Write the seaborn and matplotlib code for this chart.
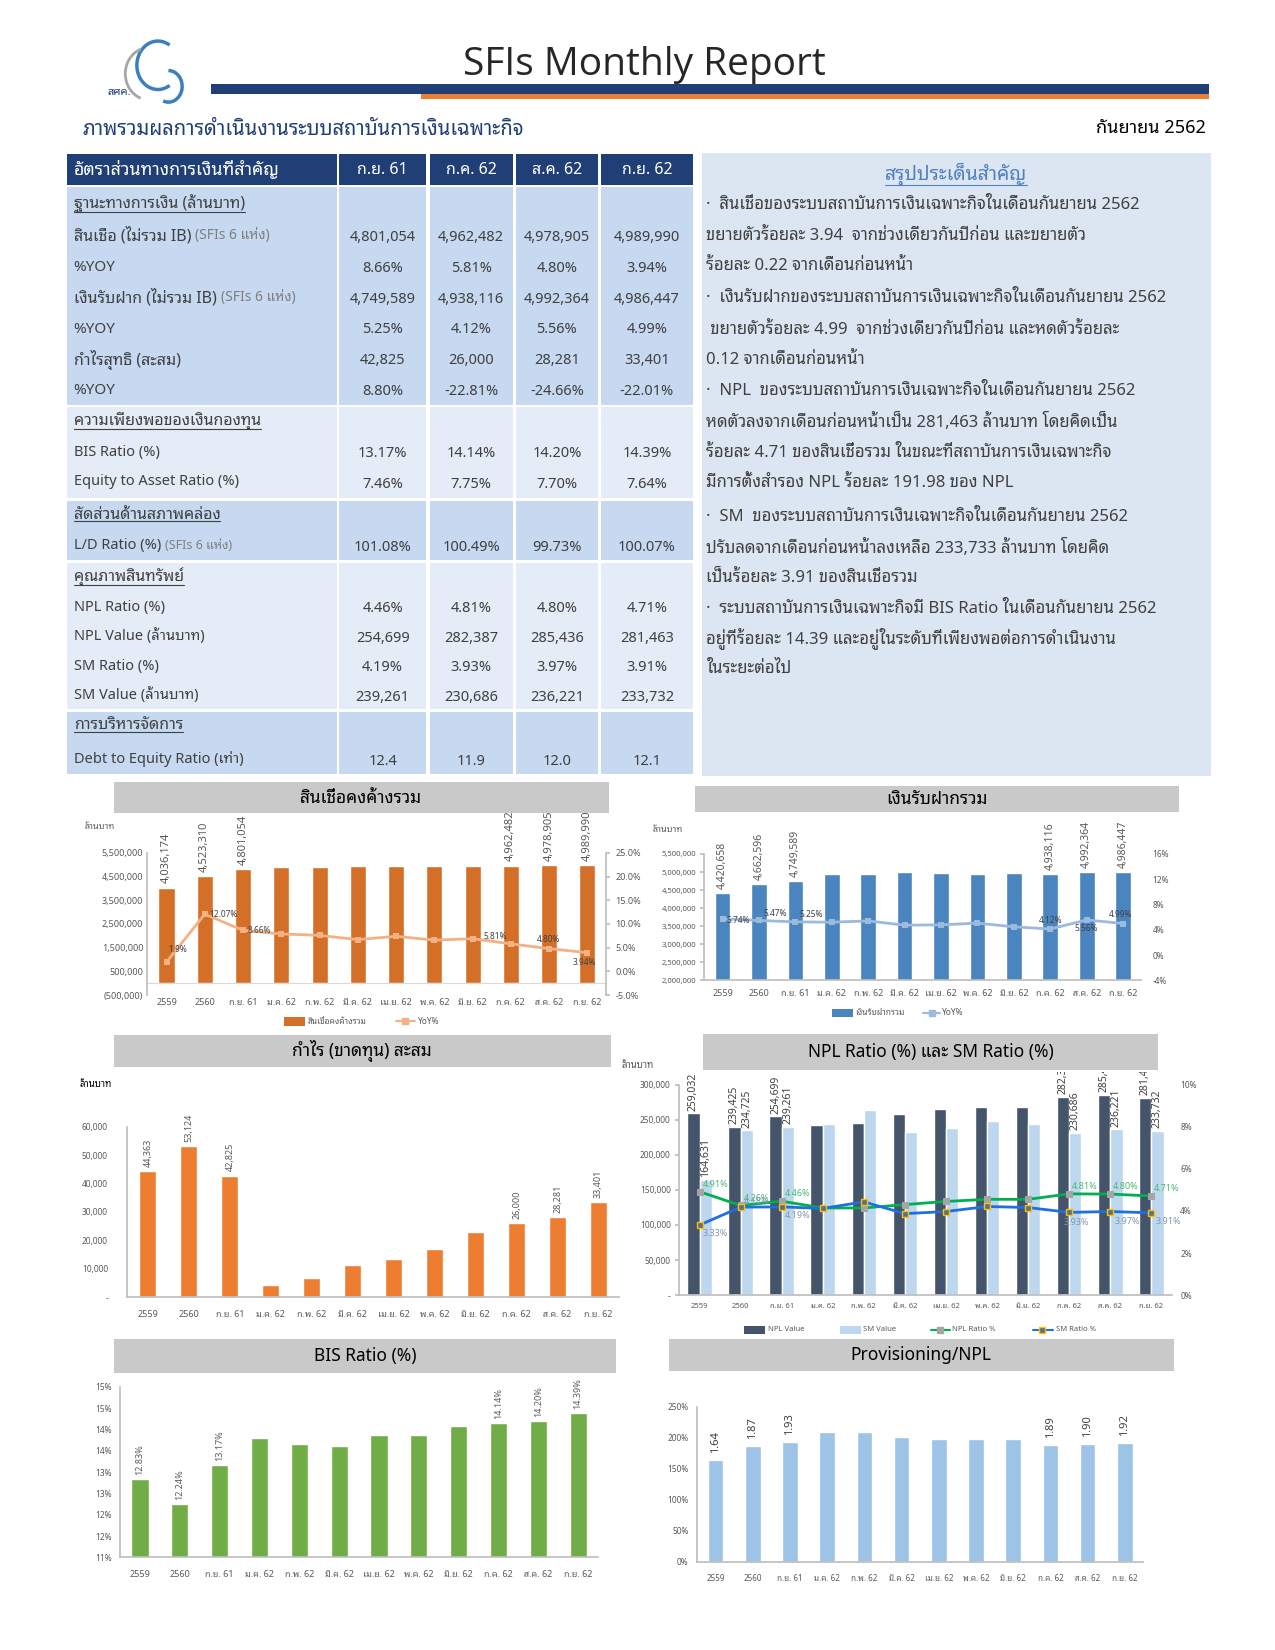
import numpy as np
import pandas as pd
import matplotlib
matplotlib.use('Agg')
import matplotlib.pyplot as plt
import matplotlib.ticker as mticker
import seaborn as sns
from matplotlib import font_manager
from matplotlib.ft2font import FT2Font
from matplotlib.patches import Rectangle, Arc
from matplotlib.lines import Line2D
from matplotlib.transforms import Bbox, TransformedBbox

# -----------------------------------------------------------
# data
# -----------------------------------------------------------
cats = ['2559', '2560', 'ก.ย. 61', 'ม.ค. 62', 'ก.พ. 62', 'มี.ค. 62', 'เม.ย. 62',
        'พ.ค. 62', 'มิ.ย. 62', 'ก.ค. 62', 'ส.ค. 62', 'ก.ย. 62']
label_idx = [0, 1, 2, 9, 10, 11]

loans = [4036174, 4523310, 4801054, 4890000, 4890000, 4930000, 4965000,
         4930000, 4965000, 4962482, 4978905, 4989990]
loans_yoy = [1.97, 12.07, 8.66, 7.9, 7.6, 6.7, 7.4, 6.6, 6.9, 5.81, 4.80, 3.94]
loans_yoy_txt = ['1.9%', '12.07%', '8.66%', '5.81%', '4.80%', '3.94%']

deposits = [4420658, 4662596, 4749589, 4945000, 4945000, 4995000, 4975000,
            4945000, 4975000, 4938116, 4992364, 4986447]
deposits_yoy = [5.74, 5.47, 5.25, 5.2, 5.4, 4.73, 4.78, 5.05, 4.47, 4.12, 5.56, 4.99]

profit = [44363, 53124, 42825, 4200, 6700, 11500, 13500, 17000, 23000, 26000, 28281, 33401]

npl_value = [259032, 239425, 254699, 242000, 245000, 258000, 265000, 268000,
             268000, 282387, 285436, 281463]
sm_value = [164631, 234725, 239261, 243500, 263500, 232000, 238000, 248000,
            244500, 230686, 236221, 233732]
npl_ratio = [4.91, 4.26, 4.46, 4.14, 4.14, 4.30, 4.45, 4.55, 4.55, 4.81, 4.80, 4.71]
sm_ratio = [3.33, 4.18, 4.19, 4.12, 4.43, 3.87, 3.97, 4.21, 4.16, 3.93, 3.97, 3.91]

bis = [12.83, 12.24, 13.17, 13.81, 13.65, 13.60, 13.86, 13.86, 14.07, 14.14, 14.20, 14.39]
prov = [1.64, 1.87, 1.93, 2.09, 2.09, 2.01, 1.98, 1.98, 1.98, 1.89, 1.90, 1.92]

tbl_cols = ['ก.ย. 61', 'ก.ค. 62', 'ส.ค. 62', 'ก.ย. 62']
tbl_loans = ['4,801,054', '4,962,482', '4,978,905', '4,989,990']
tbl_loans_yoy = ['8.66%', '5.81%', '4.80%', '3.94%']
tbl_dep = ['4,749,589', '4,938,116', '4,992,364', '4,986,447']
tbl_dep_yoy = ['5.25%', '4.12%', '5.56%', '4.99%']
tbl_profit = ['42,825', '26,000', '28,281', '33,401']
tbl_profit_yoy = ['8.80%', '-22.81%', '-24.66%', '-22.01%']
tbl_bis = ['13.17%', '14.14%', '14.20%', '14.39%']
tbl_equity = ['7.46%', '7.75%', '7.70%', '7.64%']
tbl_ld = ['101.08%', '100.49%', '99.73%', '100.07%']
tbl_npl_ratio = ['4.46%', '4.81%', '4.80%', '4.71%']
tbl_npl_value = ['254,699', '282,387', '285,436', '281,463']
tbl_sm_ratio = ['4.19%', '3.93%', '3.97%', '3.91%']
tbl_sm_value = ['239,261', '230,686', '236,221', '233,732']
tbl_de = ['12.4', '11.9', '12.0', '12.1']

summary_lines = [
    '·  สินเชื่อของระบบสถาบันการเงินเฉพาะกิจในเดือนกันยายน 2562',
    'ขยายตัวร้อยละ 3.94  จากช่วงเดียวกันปีก่อน และขยายตัว',
    'ร้อยละ 0.22 จากเดือนก่อนหน้า',
    '·  เงินรับฝากของระบบสถาบันการเงินเฉพาะกิจในเดือนกันยายน 2562',
    ' ขยายตัวร้อยละ 4.99  จากช่วงเดียวกันปีก่อน และหดตัวร้อยละ',
    '0.12 จากเดือนก่อนหน้า',
    '·  NPL  ของระบบสถาบันการเงินเฉพาะกิจในเดือนกันยายน 2562',
    'หดตัวลงจากเดือนก่อนหน้าเป็น 281,463 ล้านบาท โดยคิดเป็น',
    'ร้อยละ 4.71 ของสินเชื่อรวม ในขณะที่สถาบันการเงินเฉพาะกิจ',
    'มีการตั้งสำรอง NPL ร้อยละ 191.98 ของ NPL',
    '·  SM  ของระบบสถาบันการเงินเฉพาะกิจในเดือนกันยายน 2562',
    'ปรับลดจากเดือนก่อนหน้าลงเหลือ 233,733 ล้านบาท โดยคิด',
    'เป็นร้อยละ 3.91 ของสินเชื่อรวม',
    '·  ระบบสถาบันการเงินเฉพาะกิจมี BIS Ratio ในเดือนกันยายน 2562',
    'อยู่ที่ร้อยละ 14.39 และอยู่ในระดับที่เพียงพอต่อการดำเนินงาน',
    'ในระยะต่อไป',
]
summary_y = [195, 224, 253, 283, 313, 342, 371, 401, 430, 459, 491, 520, 549, 578, 606, 635]

# -----------------------------------------------------------
# fonts (find a family with Thai glyphs)
# -----------------------------------------------------------
sns.set_theme(style='white')


def find_thai_font():
    found = []
    for f in font_manager.fontManager.ttflist:
        if f.name in found:
            continue
        try:
            cmap = FT2Font(f.fname).get_charmap()
        except Exception:
            continue
        if 0x0E01 in cmap:
            found.append(f.name)
    for pref in ['Noto Sans Thai Looped', 'Noto Sans Thai', 'Sarabun', 'Loma', 'Garuda', 'Tlwg Typo']:
        if pref in found:
            return pref
    return found[0] if found else None


thai = find_thai_font()
fams = ['Noto Sans'] + ([thai] if thai else []) + ['DejaVu Sans']
plt.rcParams['font.family'] = fams

W0, H0 = 1211, 1567
fig = plt.figure(figsize=(12.75, 16.5), dpi=100)
fig.patch.set_facecolor('white')
bg = fig.add_axes([0, 0, 1, 1])
bg.set_xlim(0, W0)
bg.set_ylim(H0, 0)
bg.axis('off')
renderer = fig.canvas.get_renderer()

DARK = '#404040'
GRAY = '#595959'


def box(x0, y0, x1, y1, color):
    bg.add_patch(Rectangle((x0, y0), x1 - x0, y1 - y0, facecolor=color, edgecolor='none'))


def add_ax(x0, y0, x1, y1):
    ax = fig.add_axes([x0 / W0, 1 - y1 / H0, (x1 - x0) / W0, (y1 - y0) / H0])
    ax.set_facecolor('none')
    return ax


def underline(t, color):
    bb = t.get_window_extent(renderer).transformed(bg.transData.inverted())
    yb = max(bb.y0, bb.y1) - 1.5
    bg.plot([bb.x0, bb.x1], [yb, yb], color=color, lw=0.8)


def label_pair(x, y, main, sub=None, size=11.5):
    t = bg.text(x, y, main, fontsize=size, color=DARK, va='center')
    if sub:
        bb = t.get_window_extent(renderer).transformed(bg.transData.inverted())
        bg.text(bb.x1 + 4, y, sub, fontsize=size - 1.5, color='#7F7F7F', va='center')
    return t


# -----------------------------------------------------------
# header
# -----------------------------------------------------------
bg.add_patch(Arc((150, 62), 40, 46, theta1=60, theta2=300, color='#3B7FC0', lw=2.5))
bg.add_patch(Arc((142, 70), 46, 50, theta1=110, theta2=250, color='#A6A6A6', lw=2))
bg.add_patch(Arc((160, 82), 26, 30, theta1=-90, theta2=110, color='#3B7FC0', lw=2.5))
bg.text(113, 88, 'สศค.', fontsize=8, color='#1F3F76', fontweight='bold', va='center', ha='center')
bg.text(612, 62, 'SFIs Monthly Report', fontsize=28, color='#262626', ha='center', va='center',
        family='Open Sans')
box(200, 80, 1148, 89, '#1F3F76')
box(400, 89, 1148, 94, '#ED7D31')
bg.text(78, 123, 'ภาพรวมผลการดำเนินงานระบบสถาบันการเงินเฉพาะกิจ', fontsize=14.5,
        color='#1F3F76', va='center')
bg.text(1145, 122, 'กันยายน 2562', fontsize=13, color='black', fontweight='bold',
        ha='right', va='center')

# -----------------------------------------------------------
# table
# -----------------------------------------------------------
cols_x = [(64, 320), (322, 405), (408, 487), (490, 568), (571, 658)]
col_c = [(a + b) / 2 for a, b in cols_x[1:]]
for a, b in cols_x:
    box(a, 146, b, 176, '#1F3F76')
bg.text(70, 161, 'อัตราส่วนทางการเงินที่สำคัญ', fontsize=12.8, color='white',
        fontweight='bold', va='center')
for c, name in zip(col_c, tbl_cols):
    bg.text(c, 161, name, fontsize=11.5, color='white', ha='center', va='center')

MED, LIGHT = '#C6D9F1', '#E4ECF7'
sections = [(178, 385, MED), (387, 473, LIGHT), (476, 532, MED), (535, 673, LIGHT), (676, 735, MED)]
for y0, y1, colr in sections:
    for a, b in cols_x:
        box(a, y0, b, y1, colr)


def sec_head(y, txt):
    t = bg.text(70, y, txt, fontsize=11.5, color=DARK, va='center')
    underline(t, DARK)


def values(y, vals, size=10.5):
    for c, v in zip(col_c, vals):
        bg.text(c, y, v, fontsize=size, color=DARK, ha='center', va='center')


sec_head(194, 'ฐานะทางการเงิน (ล้านบาท)')
label_pair(70, 224, 'สินเชื่อ (ไม่รวม IB)', '(SFIs 6 แห่ง)')
values(226, tbl_loans)
label_pair(70, 254, '%YOY', size=11)
values(255, tbl_loans_yoy)
label_pair(70, 283, 'เงินรับฝาก (ไม่รวม IB)', '(SFIs 6 แห่ง)')
values(284, tbl_dep)
label_pair(70, 313, '%YOY', size=11)
values(313, tbl_dep_yoy)
label_pair(70, 342, 'กำไรสุทธิ (สะสม)')
values(342, tbl_profit)
label_pair(70, 371, '%YOY', size=11)
values(372, tbl_profit_yoy)

sec_head(400, 'ความเพียงพอของเงินกองทุน')
label_pair(70, 430, 'BIS Ratio (%)', size=10.5)
values(431, tbl_bis)
label_pair(70, 457, 'Equity to Asset Ratio (%)', size=10.5)
values(460, tbl_equity)

sec_head(489, 'สัดส่วนด้านสภาพคล่อง')
label_pair(70, 518, 'L/D Ratio (%)', '(SFIs 6 แห่ง)', size=10.5)
values(520, tbl_ld)

sec_head(548, 'คุณภาพสินทรัพย์')
label_pair(70, 577, 'NPL Ratio (%)', size=10.5)
values(578, tbl_npl_ratio)
label_pair(70, 604, 'NPL Value (ล้านบาท)', size=10.5)
values(606, tbl_npl_value)
label_pair(70, 633, 'SM Ratio (%)', size=10.5)
values(634, tbl_sm_ratio)
label_pair(70, 660, 'SM Value (ล้านบาท)', size=10.5)
values(662, tbl_sm_value)

sec_head(689, 'การบริหารจัดการ')
label_pair(70, 721, 'Debt to Equity Ratio (เท่า)', size=10.5)
values(723, tbl_de)

# -----------------------------------------------------------
# summary panel
# -----------------------------------------------------------
box(667, 145, 1150, 737, '#DCE6F2')
t = bg.text(908, 166, 'สรุปประเด็นสำคัญ', fontsize=14, color='#4F81BD', fontweight='bold',
            ha='center', va='center')
underline(t, '#4F81BD')
for yy, line in zip(summary_y, summary_lines):
    bg.text(671, yy, line, fontsize=12, color=DARK, va='center')


# -----------------------------------------------------------
# chart helpers
# -----------------------------------------------------------
def title_bar(x0, y0, x1, y1, txt, bold=True):
    box(x0, y0, x1, y1, '#C9C9C9')
    bg.text((x0 + x1) / 2, (y0 + y1) / 2, txt, fontsize=12.5, color='black',
            fontweight='bold' if bold else 'normal', ha='center', va='center')


def style(ax, pad=3, left_ticks=0):
    for s in ['top', 'right']:
        ax.spines[s].set_visible(False)
    ax.spines['left'].set_color('#BFBFBF')
    ax.spines['bottom'].set_color('#BFBFBF')
    ax.tick_params(axis='x', labelsize=6.5, colors=GRAY, length=0, pad=pad)
    ax.tick_params(axis='y', labelsize=6.5, colors=GRAY, length=left_ticks, pad=3, color='#BFBFBF')
    ax.set_xlabel('')
    ax.set_ylabel('')
    ax.set_xlim(-0.5, 11.5)
    ax.grid(False)


def bar_labels(ax, vals, fmt, size=7, color=GRAY, scale=1.0, pad=3):
    for i in label_idx:
        ax.annotate(fmt(vals[i]), (i, vals[i] * scale), xytext=(0, pad), textcoords='offset points',
                    rotation=90, ha='center', va='bottom', fontsize=size, color=color)


def point_labels(ax, vals, offsets, texts=None, size=6, color=DARK):
    for k, (i, (dx, dy, ha, va)) in enumerate(zip(label_idx, offsets)):
        txt = texts[k] if texts else f'{vals[i]:.2f}%'
        ax.annotate(txt, (i, vals[i]), xytext=(dx, dy), textcoords='offset points',
                    ha=ha, va=va, fontsize=size, color=color)


x_idx = np.arange(len(cats))

# -----------------------------------------------------------
# chart 1: loans
# -----------------------------------------------------------
title_bar(108, 743, 578, 772, 'สินเชื่อคงค้างรวม')
bg.text(80, 785, 'ล้านบาท', fontsize=6.5, color=GRAY, va='center')
ax1 = add_ax(140, 810, 576, 945)
sns.barplot(x=cats, y=loans, color='#D46F27', saturation=1, width=0.42, ax=ax1)
ax1.set_ylim(-500000, 5500000)
ax1.set_yticks(np.arange(-500000, 5500001, 1000000))
ax1.yaxis.set_major_formatter(mticker.FuncFormatter(
    lambda v, p: f'({abs(v):,.0f})' if v < 0 else f'{v:,.0f}'))
style(ax1, pad=2)
ax1.spines['bottom'].set_visible(False)
ax1.axhline(0, color='#D9D9D9', lw=0.8)
bar_labels(ax1, loans, lambda v: f'{v:,.0f}', size=8)
ax1b = ax1.twinx()
sns.lineplot(x=x_idx, y=loans_yoy, color='#F4B183', marker='s', markersize=5,
             markeredgewidth=0, lw=2, ax=ax1b)
ax1b.set_ylim(-5, 25)
ax1b.set_yticks(np.arange(-5, 26, 5))
ax1b.yaxis.set_major_formatter(mticker.FuncFormatter(lambda v, p: f'{v:.1f}%'))
for s in ['top', 'left', 'bottom']:
    ax1b.spines[s].set_visible(False)
ax1b.spines['right'].set_color('#BFBFBF')
ax1b.tick_params(axis='y', labelsize=6.5, colors=GRAY, length=3, color='#BFBFBF')
ax1b.set_ylabel('')
ax1b.grid(False)
point_labels(ax1b, loans_yoy, [(1, 6, 'left', 'bottom'), (3, 0, 'left', 'center'),
                               (3, 0, 'left', 'center'), (-3, 2, 'right', 'bottom'),
                               (0, 3, 'center', 'bottom'), (-2, -4, 'center', 'top')],
             texts=loans_yoy_txt)
bg.add_patch(Rectangle((270, 966), 20, 8, facecolor='#D46F27', edgecolor='none'))
bg.text(292, 970, 'สินเชื่อคงค้างรวม', fontsize=6, color=GRAY, va='center')
bg.plot([376, 394], [970, 970], color='#F4B183', lw=1.5)
bg.plot([385], [970], marker='s', color='#F4B183', markersize=4)
bg.text(397, 970, 'YoY%', fontsize=6, color=GRAY, va='center')

# -----------------------------------------------------------
# chart 2: deposits
# -----------------------------------------------------------
title_bar(660, 746, 1120, 771, 'เงินรับฝากรวม')
bg.text(620, 788, 'ล้านบาท', fontsize=6.5, color=GRAY, va='center')
ax2 = add_ax(669, 811, 1084, 931)
sns.barplot(x=cats, y=deposits, color='#4A85C0', saturation=1, width=0.43, ax=ax2)
ax2.set_ylim(2000000, 5500000)
ax2.set_yticks(np.arange(2000000, 5500001, 500000))
ax2.yaxis.set_major_formatter(mticker.FuncFormatter(lambda v, p: f'{v:,.0f}'))
style(ax2, pad=6, left_ticks=3)
ax2.tick_params(axis='y', labelsize=5.5)
bar_labels(ax2, deposits, lambda v: f'{v:,.0f}', size=7.5)
ax2b = ax2.twinx()
sns.lineplot(x=x_idx, y=deposits_yoy, color='#9DB9DC', marker='s', markersize=5,
             markeredgewidth=0, lw=2, ax=ax2b)
ax2b.set_ylim(-4, 16)
ax2b.set_yticks(np.arange(-4, 17, 4))
ax2b.yaxis.set_major_formatter(mticker.FuncFormatter(lambda v, p: f'{v:.0f}%'))
for s in ['top', 'left', 'bottom', 'right']:
    ax2b.spines[s].set_visible(False)
ax2b.tick_params(axis='y', labelsize=6, colors=GRAY, length=0, pad=8)
ax2b.set_ylabel('')
ax2b.grid(False)
point_labels(ax2b, deposits_yoy, [(3, -1, 'left', 'center'), (3, 2, 'left', 'bottom'),
                                  (3, 2, 'left', 'bottom'), (0, 3, 'center', 'bottom'),
                                  (0, -3, 'center', 'top'), (-2, 3, 'center', 'bottom')])
bg.add_patch(Rectangle((790, 958), 20, 8, facecolor='#4A85C0', edgecolor='none'))
bg.text(812, 962, 'เงินรับฝากรวม', fontsize=6, color=GRAY, va='center')
bg.plot([877, 893], [962, 962], color='#9DB9DC', lw=1.5)
bg.plot([885], [962], marker='s', color='#9DB9DC', markersize=4)
bg.text(895, 962, 'YoY%', fontsize=6, color=GRAY, va='center')

# -----------------------------------------------------------
# chart 3: profit
# -----------------------------------------------------------
title_bar(108, 983, 580, 1013, 'กำไร (ขาดทุน) สะสม')
bg.text(75, 1030, 'ล้านบาท', fontsize=7, color='black', va='center')
ax3 = add_ax(121, 1070, 588, 1232)
sns.barplot(x=cats, y=profit, color='#ED7D31', saturation=1, width=0.42, ax=ax3)
ax3.set_ylim(0, 60000)
ax3.set_yticks(np.arange(0, 60001, 10000))
ax3.yaxis.set_major_formatter(mticker.FuncFormatter(lambda v, p: '-' if v == 0 else f'{v:,.0f}'))
style(ax3, pad=9)
ax3.tick_params(axis='y', labelsize=6, pad=14)
bar_labels(ax3, profit, lambda v: f'{v:,.0f}', size=6.5)

# -----------------------------------------------------------
# chart 4: NPL / SM
# -----------------------------------------------------------
title_bar(668, 982, 1100, 1016, 'NPL Ratio (%) และ SM Ratio (%)', bold=False)
bg.text(590, 1012, 'ล้านบาท', fontsize=7, color=GRAY, va='center')
ax4 = add_ax(645, 1030, 1113, 1230)
df4 = pd.DataFrame({'cat': cats * 2, 'value': npl_value + sm_value,
                    'series': ['NPL Value'] * 12 + ['SM Value'] * 12})
sns.barplot(data=df4, x='cat', y='value', hue='series', palette=['#44546A', '#BDD7EE'],
            saturation=1, width=0.6, gap=0, ax=ax4, legend=False)
ax4.set_ylim(0, 300000)
ax4.set_yticks(np.arange(0, 300001, 50000))
ax4.yaxis.set_major_formatter(mticker.FuncFormatter(lambda v, p: '-' if v == 0 else f'{v:,.0f}'))
style(ax4, pad=6, left_ticks=3)
ax4.tick_params(axis='y', labelsize=6)
ax4.tick_params(axis='x', labelsize=5.5)
clip = TransformedBbox(Bbox.from_extents(0, 1 - 1240 / H0, 1, 1 - 1018 / H0), fig.transFigure)
for i in label_idx:
    for off, v in [(-0.15, npl_value[i]), (0.15, sm_value[i])]:
        t = ax4.annotate(f'{v:,.0f}', (i + off, v), xytext=(0, 2), textcoords='offset points',
                         rotation=90, ha='center', va='bottom', fontsize=7.5, color=DARK)
        t.set_clip_box(clip)
        t.set_clip_on(True)
ax4b = ax4.twinx()
sns.lineplot(x=x_idx, y=npl_ratio, color='#00B050', lw=2, marker='s', markersize=5,
             markerfacecolor='#A5A5A5', markeredgecolor='#A5A5A5', ax=ax4b)
sns.lineplot(x=x_idx, y=sm_ratio, color='#1F6FE0', lw=2, marker='s', markersize=5,
             markerfacecolor='#5A6F8C', markeredgecolor='#FFC000', markeredgewidth=1, ax=ax4b)
ax4b.set_ylim(0, 10)
ax4b.set_yticks(np.arange(0, 11, 2))
ax4b.yaxis.set_major_formatter(mticker.FuncFormatter(lambda v, p: f'{v:.0f}%'))
for s in ['top', 'left', 'bottom', 'right']:
    ax4b.spines[s].set_visible(False)
ax4b.tick_params(axis='y', labelsize=6, colors=GRAY, length=0, pad=6)
ax4b.set_ylabel('')
ax4b.grid(False)
point_labels(ax4b, npl_ratio, [(2, 2, 'left', 'bottom')] * 6, size=6.5, color='#4BB870')
point_labels(ax4b, sm_ratio, [(2, -3, 'left', 'top'), (2, 1, 'left', 'bottom'),
                              (2, -3, 'left', 'top'), (-4, -4, 'left', 'top'),
                              (3, -4, 'left', 'top'), (3, -3, 'left', 'top')],
             size=6.5, color='#8497B0')
bg.add_patch(Rectangle((707, 1259), 20, 8, facecolor='#44546A', edgecolor='none'))
bg.text(729, 1263, 'NPL Value', fontsize=5.5, color=GRAY, va='center')
bg.add_patch(Rectangle((798, 1259), 20, 8, facecolor='#BDD7EE', edgecolor='none'))
bg.text(820, 1263, 'SM Value', fontsize=5.5, color=GRAY, va='center')
bg.plot([884, 902], [1263, 1263], color='#00B050', lw=1.5)
bg.plot([893], [1263], marker='s', color='#A5A5A5', markersize=4)
bg.text(904, 1263, 'NPL Ratio %', fontsize=5.5, color=GRAY, va='center')
bg.plot([981, 1000], [1263, 1263], color='#1F6FE0', lw=1.5)
bg.plot([990], [1263], marker='s', markerfacecolor='#5A6F8C', markeredgecolor='#FFC000',
        markersize=4)
bg.text(1003, 1263, 'SM Ratio %', fontsize=5.5, color=GRAY, va='center')

# -----------------------------------------------------------
# chart 5: BIS ratio
# -----------------------------------------------------------
title_bar(108, 1272, 585, 1304, 'BIS Ratio (%)', bold=False)
ax5 = add_ax(114, 1317, 568, 1479)
sns.barplot(x=cats, y=bis, color='#70AD47', saturation=1, width=0.43, ax=ax5)
ax5.set_ylim(11, 15)
ax5.set_yticks(np.arange(11, 15.01, 0.5))
ax5.yaxis.set_major_formatter(mticker.FuncFormatter(lambda v, p: f'{int(np.floor(v + 0.5))}%'))
style(ax5, pad=9, left_ticks=3)
ax5.tick_params(axis='y', labelsize=6)
bar_labels(ax5, bis, lambda v: f'{v:.2f}%', size=6.5)

# -----------------------------------------------------------
# chart 6: provisioning / NPL
# -----------------------------------------------------------
title_bar(635, 1272, 1115, 1302, 'Provisioning/NPL', bold=False)
ax6 = add_ax(662, 1336, 1086, 1483)
prov_pct = [v * 100 for v in prov]
sns.barplot(x=cats, y=prov_pct, color='#9DC3E6', saturation=1, width=0.42, ax=ax6)
ax6.set_ylim(0, 250)
ax6.set_yticks(np.arange(0, 251, 50))
ax6.yaxis.set_major_formatter(mticker.FuncFormatter(lambda v, p: f'{v:.0f}%'))
style(ax6, pad=9, left_ticks=3)
ax6.tick_params(axis='y', labelsize=6)
ax6.tick_params(axis='x', labelsize=5.8)
for lbl in ax6.get_xticklabels():
    lbl.set_fontweight('bold')
for i in label_idx:
    ax6.annotate(f'{prov[i]:.2f}', (i, prov_pct[i]), xytext=(0, 5), textcoords='offset points',
                 rotation=90, ha='center', va='bottom', fontsize=8, color=DARK)

fig.savefig('out.png', dpi=100)
